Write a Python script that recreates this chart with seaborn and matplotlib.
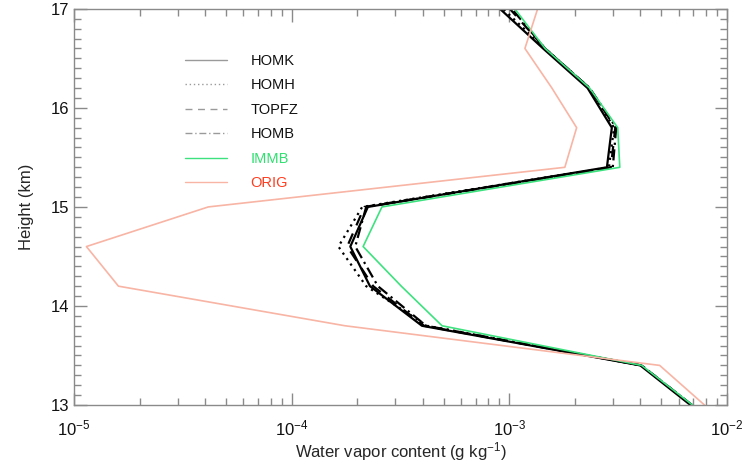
import numpy as np
import pandas as pd
import matplotlib
matplotlib.use("Agg")
import matplotlib.pyplot as plt
import seaborn as sns
from matplotlib.ticker import LogLocator, MultipleLocator, FixedLocator, NullFormatter

# ---- data ----
heights = [13.0, 13.4, 13.8, 14.2, 14.6, 15.0, 15.4, 15.8, 16.2, 16.6, 17.0]
homk  = [6.8e-3, 4.0e-3, 3.97e-4, 2.29e-4, 1.86e-4, 2.24e-4, 2.81e-3, 2.96e-3, 2.29e-3, 1.43e-3, 9.06e-4]
homh  = [6.9e-3, 4.05e-3, 4.19e-4, 2.20e-4, 1.64e-4, 2.11e-4, 2.87e-3, 3.03e-3, 2.34e-3, 1.46e-3, 9.35e-4]
topfz = [6.9e-3, 4.05e-3, 4.06e-4, 2.37e-4, 1.80e-4, 2.16e-4, 2.93e-3, 3.07e-3, 2.34e-3, 1.46e-3, 1.006e-3]
homb  = [6.9e-3, 4.05e-3, 4.15e-4, 2.49e-4, 1.96e-4, 2.20e-4, 2.99e-3, 3.10e-3, 2.34e-3, 1.46e-3, 1.028e-3]
immb  = [6.95e-3, 4.06e-3, 4.91e-4, 3.19e-4, 2.13e-4, 2.60e-4, 3.22e-3, 3.15e-3, 2.34e-3, 1.46e-3, 1.06e-3]
orig  = [7.89e-3, 4.91e-3, 1.76e-4, 1.60e-5, 1.14e-5, 4.14e-5, 1.80e-3, 2.04e-3, 1.57e-3, 1.18e-3, 1.35e-3]

runs = ["HOMK", "HOMH", "TOPFZ", "HOMB", "IMMB", "ORIG"]
series = [homk, homh, topfz, homb, immb, orig]
xticks = [1e-5, 1e-4, 1e-3, 1e-2]
xtick_labels = [r"$10^{-5}$", r"$10^{-4}$", r"$10^{-3}$", r"$10^{-2}$"]
yticks = [13, 14, 15, 16, 17]

rows = []
for r, vals in zip(runs, series):
    for i, (h, v) in enumerate(zip(heights, vals)):
        rows.append({"run": r, "h": h, "wv": v, "order": i})
df = pd.DataFrame(rows)

# ---- style ----
sns.set_style("ticks")
plt.rcParams["font.family"] = ["Liberation Sans", "DejaVu Sans"]
plt.rcParams["mathtext.fontset"] = "custom"
plt.rcParams["mathtext.rm"] = "Liberation Sans"
plt.rcParams["mathtext.it"] = "Liberation Sans"

palette = {"HOMK": "black", "HOMH": "black", "TOPFZ": "black", "HOMB": "black",
           "IMMB": "#3de27f", "ORIG": "#f8b4a4"}
dashes = {"HOMK": "", "HOMH": (1, 2), "TOPFZ": (5, 4), "HOMB": (5, 2, 1, 2),
          "IMMB": "", "ORIG": ""}
text_colors = {"HOMK": "#111111", "HOMH": "#111111", "TOPFZ": "#111111", "HOMB": "#111111",
               "IMMB": "#2fe070", "ORIG": "#ff3c1e"}

fig = plt.figure(figsize=(7.44, 4.65), dpi=100)
ax = fig.add_axes([0.0995, 0.129, 0.8775, 0.852])

sns.lineplot(data=df, x="wv", y="h", hue="run", style="run", hue_order=runs,
             style_order=runs, palette=palette, dashes=dashes, sort=False,
             estimator=None, units="run", ax=ax, linewidth=1.2, legend="full")

for line in ax.get_lines():
    if matplotlib.colors.to_hex(line.get_color()) == "#000000":
        line.set_linewidth(1.6)

ax.set_xscale("log")
ax.set_xlim(1e-5, 1e-2)
ax.set_ylim(13, 17)

ax.xaxis.set_major_locator(FixedLocator(xticks))
ax.set_xticklabels(xtick_labels)
ax.xaxis.set_minor_locator(LogLocator(base=10, subs=np.arange(2, 10)))
ax.xaxis.set_minor_formatter(NullFormatter())
ax.yaxis.set_major_locator(FixedLocator(yticks))
ax.yaxis.set_minor_locator(MultipleLocator(0.1))

spine_c = "#8a8a8a"
for s in ax.spines.values():
    s.set_color(spine_c)
    s.set_linewidth(1.0)
    s.set_visible(True)
ax.tick_params(which="both", direction="in", top=True, right=True, color=spine_c,
               labelsize=12, labelcolor="#111111")
ax.tick_params(which="major", length=9, width=1.0)
ax.tick_params(which="minor", length=5, width=1.0)
ax.tick_params(axis="x", which="major", pad=10)

ax.set_xlabel("Water vapor content (g kg$^{-1}$)", fontsize=12, labelpad=1)
ax.set_ylabel("Height (km)", fontsize=12, labelpad=12)

# legend
handles, labels = ax.get_legend_handles_labels()
leg = ax.legend(handles, labels, loc="upper left", bbox_to_anchor=(0.15, 0.92),
                frameon=False, fontsize=10.5, handlelength=2.9, handletextpad=1.6,
                labelspacing=0.72)
for lh, txt in zip(leg.get_lines(), leg.get_texts()):
    name = txt.get_text()
    txt.set_color(text_colors.get(name, "black"))
    if palette.get(name) == "black":
        lh.set_color("#9a9a9a")
    lh.set_linewidth(1.0)

fig.savefig("out.png", dpi=100)
